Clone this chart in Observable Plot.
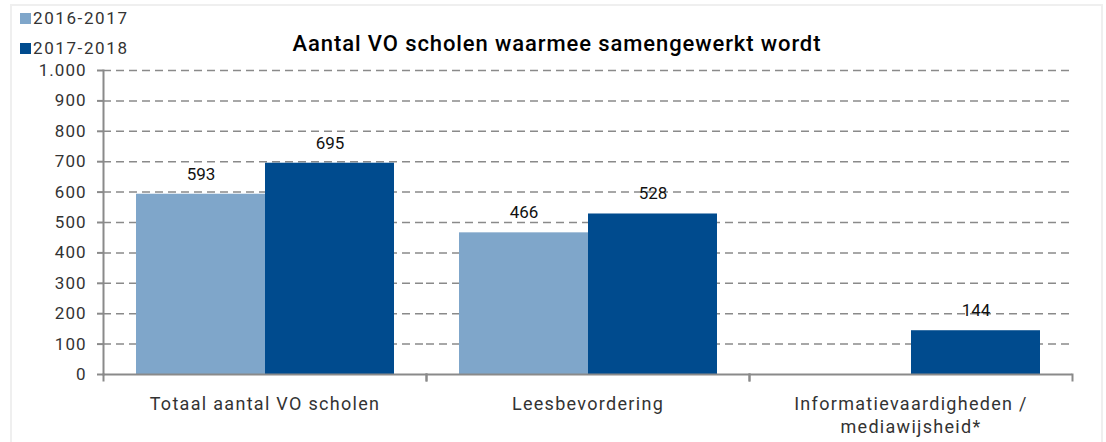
<!DOCTYPE html>
<html><head><meta charset="utf-8">
<script src="https://cdn.jsdelivr.net/npm/d3@7"></script>
<script src="https://cdn.jsdelivr.net/npm/@observablehq/plot@0.6"></script>
<style>
body{margin:0;background:#fff;font-family:Roboto, sans-serif;}
#wrap{position:relative;width:1106px;height:442px;overflow:hidden;}
#border{position:absolute;left:10px;top:4px;width:1093px;height:460px;border:2px solid #efefef;box-sizing:border-box}
#title{position:absolute;left:4px;width:1106px;top:30px;text-align:center;font-size:22px;font-weight:500;letter-spacing:0.9px;color:#000;line-height:28px}
.leg{position:absolute;left:20px;font-size:17px;letter-spacing:1.6px;color:#333;display:flex;align-items:center;line-height:20px}
.sw{width:11px;height:11px;margin-right:2px}
#chart{position:absolute;left:0;top:0}
g[aria-label="y-axis tick label"] text{letter-spacing:1px}
g[aria-label="fx-axis tick label"] text{letter-spacing:1.3px}
</style></head>
<body>
<div id="wrap">
<div id="border"></div>
<div id="chart"></div>
<div id="title">Aantal VO scholen waarmee samengewerkt wordt</div>
<div id="legend"></div>
</div>
<script>
const categories = ["Totaal aantal VO scholen", "Leesbevordering", "Informatievaardigheden / mediawijsheid*"];
const series = ["2016-2017", "2017-2018"];
const values2016 = [593, 466, null];
const values2017 = [695, 528, 144];
const yTicks = [0, 100, 200, 300, 400, 500, 600, 700, 800, 900, 1000];
const colors = ["#7fa6ca", "#004b8e"];

const data = [];
categories.forEach((c, i) => {
  if (values2016[i] != null) data.push({cat: c, s: series[0], v: values2016[i]});
  if (values2017[i] != null) data.push({cat: c, s: series[1], v: values2017[i]});
});

const legend = document.getElementById("legend");
series.forEach((s, i) => {
  const d = document.createElement("div");
  d.className = "leg";
  d.style.top = (8 + i * 30) + "px";
  d.innerHTML = `<span class="sw" style="background:${colors[i]}"></span><span>${s}</span>`;
  legend.appendChild(d);
});

const axisColor = "#8a8a8a";
const chart = Plot.plot({
  width: 1106, height: 442,
  marginTop: 70, marginBottom: 68, marginLeft: 102, marginRight: 34,
  style: {fontFamily: "Roboto, sans-serif", fontSize: "15px", color: "#333", background: "transparent"},
  fx: {domain: categories, paddingInner: 0, paddingOuter: 0, label: null},
  x: {domain: series, paddingInner: 0, paddingOuter: 0.25, axis: null},
  y: {domain: [0, 1000], label: null},
  color: {domain: series, range: colors},
  marks: [
    Plot.gridY(yTicks.slice(1), {stroke: axisColor, strokeOpacity: 1, strokeDasharray: "8,5", strokeWidth: 1.5}),
    Plot.barY(data, {fx: "cat", x: "s", y: "v", fill: "s"}),
    Plot.text(data, {fx: "cat", x: "s", y: "v", text: d => String(d.v), dy: -20, fontSize: 17, fill: "#111"}),
    Plot.ruleY([0], {stroke: axisColor, strokeWidth: 2}),
    Plot.frame({anchor: "left", stroke: axisColor, strokeWidth: 2, insetTop: 304, insetBottom: -6}),
    Plot.frame({anchor: "right", stroke: axisColor, strokeWidth: 2, insetTop: 304, insetBottom: -6}),
    Plot.frame({anchor: "left", facet: "super", stroke: axisColor, strokeWidth: 2}),
    Plot.axisY(yTicks, {tickSize: 6, tickPadding: 11, stroke: axisColor, strokeWidth: 2, fill: "#333", fontSize: 17,
      tickFormat: d => d.toLocaleString("nl-NL"), label: null}),
    Plot.axisFx({anchor: "bottom", tickSize: 0, tickPadding: 18, fontSize: 18, lineHeight: 1.33, fill: "#333",
      tickFormat: d => d.replace(" / ", " /\n"), label: null})
  ]
});
document.getElementById("chart").appendChild(chart);
</script>
</body></html>
